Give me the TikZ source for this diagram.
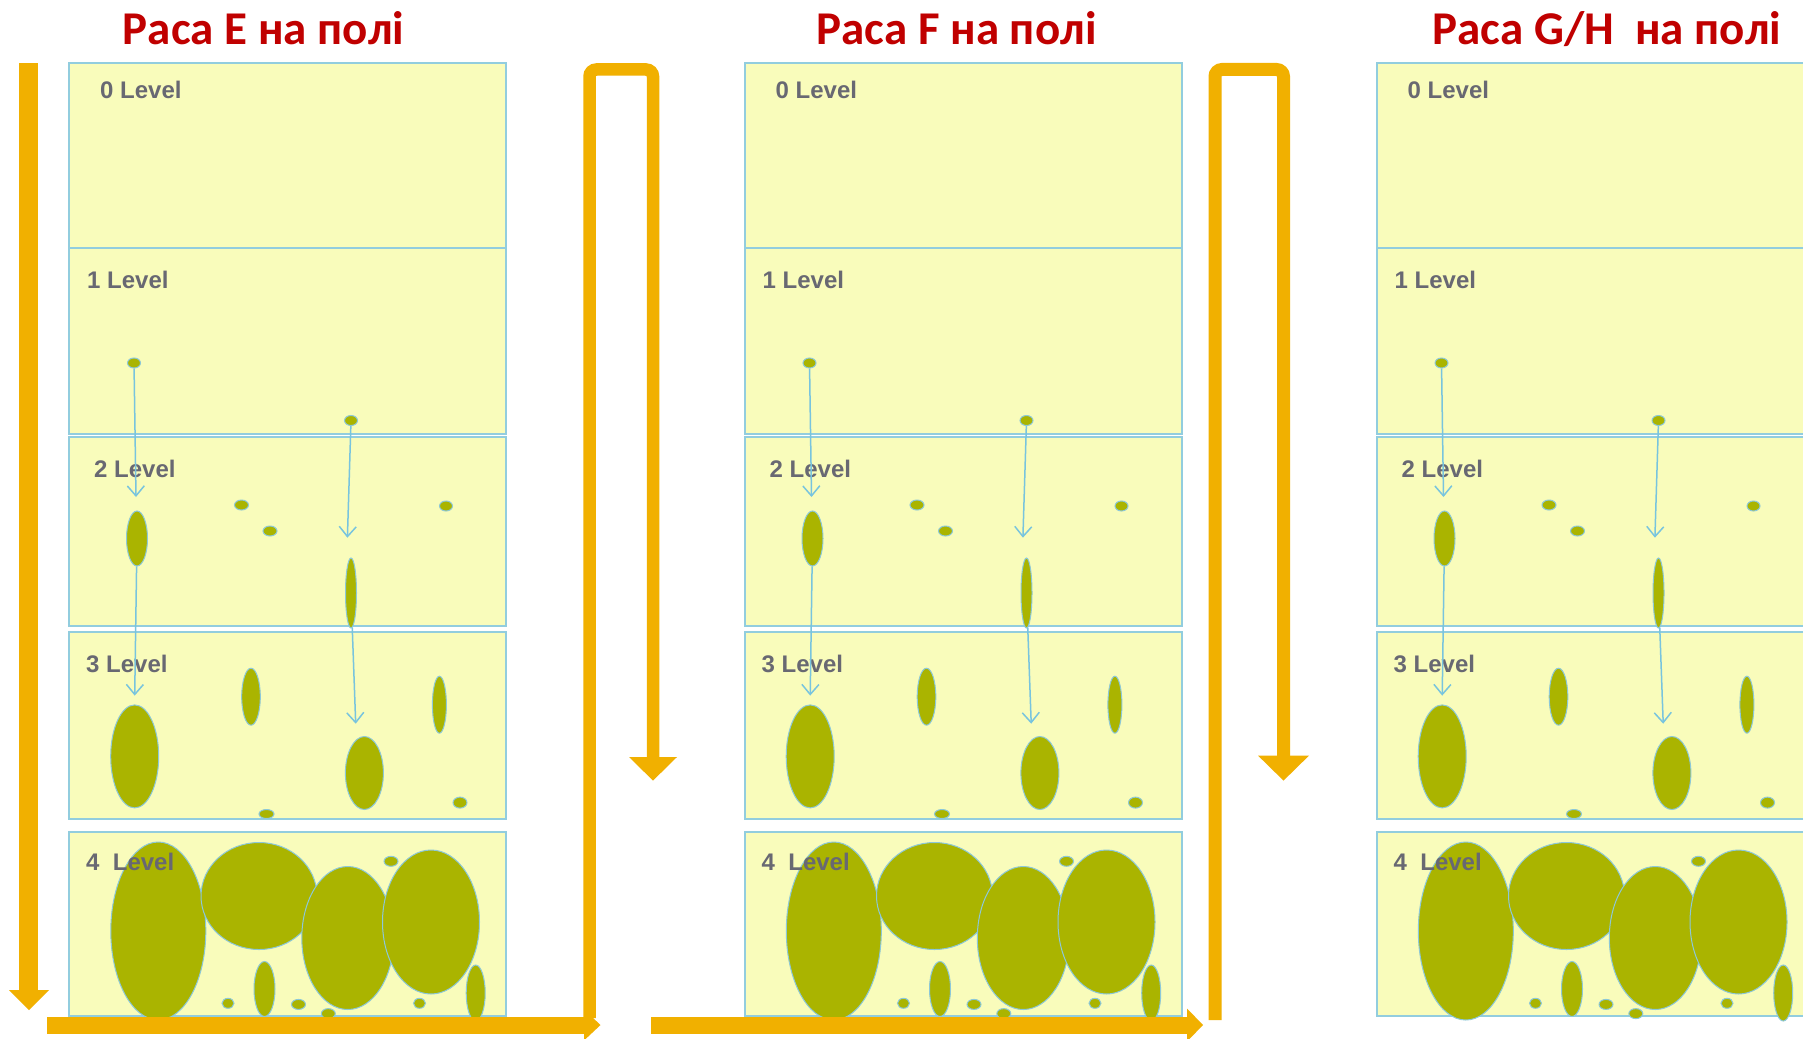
\documentclass[tikz,border=0pt]{standalone}
\usepackage{fontspec}
\usetikzlibrary{shapes.geometric,arrows.meta}
\newfontfamily\titlefont{Carlito}
\newfontfamily\levelfont{Liberation Sans}
\definecolor{titlered}{RGB}{192,0,0}
\definecolor{levelgray}{RGB}{104,104,114}
\definecolor{boxfill}{RGB}{249,252,187}
\definecolor{boxline}{RGB}{146,205,222}
\definecolor{blobfill}{RGB}{170,180,0}
\definecolor{blobline}{RGB}{140,200,218}
\definecolor{arrowblue}{RGB}{120,196,222}
\definecolor{flow}{RGB}{241,176,0}
\tikzset{
  title/.style={anchor=base, text=titlered, inner sep=0pt,
    font=\titlefont\bfseries\fontsize{47}{50}\selectfont},
  lvl/.style={anchor=base west, text=levelgray, inner sep=0pt,
    font=\levelfont\bfseries\fontsize{24}{27}\selectfont},
  field/.style={draw=boxline, fill=boxfill, line width=2pt},
  blob/.style 2 args={ellipse, draw=blobline, line width=1pt, fill=blobfill,
    inner sep=0pt, minimum width=#1pt, minimum height=#2pt},
  descent/.style={draw=arrowblue, line width=1.5pt,
    -{Straight Barb[length=10pt,width=17pt,line width=1.5pt]}},
  flowbar/.style={draw=flow, line width=#1pt, rounded corners=7pt},
}
% one field: five level boxes with the growing plants and their arrows
\newcommand\fieldpanel[2]{%
\begin{scope}[xshift=#1pt]
  \draw[field] (69,63) rectangle (506,248);
  \draw[field] (69,248) rectangle (506,434);
  \draw[field] (69,437) rectangle (506,626);
  \draw[field] (69,632) rectangle (506,819);
  \draw[field] (69,832) rectangle (506,1016);
  % level 1
  \node[blob={13}{10}] (#2d1) at (134,363) {};
  \node[blob={13}{10}] (#2d2) at (351,420.5) {};
  % level 2
  \node[blob={21}{55}] (#2e2a) at (137,538.5) {};
  \node[blob={14}{10}] (#2d3) at (241.5,505) {};
  \node[blob={14}{10}] (#2d4) at (270,531) {};
  \node[blob={13}{10}] (#2d5) at (446,506) {};
  \node[blob={11}{70}] (#2e2b) at (351,593) {};
  % level 3
  \node[blob={48}{103}] (#2e3a) at (134.7,756.4) {};
  \node[blob={18.6}{57}] (#2e3b) at (251,696.7) {};
  \node[blob={14}{57}] (#2e3c) at (439.4,704.7) {};
  \node[blob={38}{73}] (#2e3d) at (364.4,773) {};
  \node[blob={15}{9}] (#2d6) at (266.5,814) {};
  \node[blob={14}{11}] (#2d7) at (460,802.6) {};
  % level 4
  \node[blob={95}{178}] (#2e4a) at (158.3,931) {};
  \node[blob={116}{107}] (#2e4b) at (259,896) {};
  \node[blob={92}{143}] (#2e4c) at (347.8,938) {};
  \node[blob={97}{144}] (#2e4d) at (431,922) {};
  \node[blob={14}{10}] (#2d8) at (391,861.3) {};
  \node[blob={21}{55}] (#2e4e) at (264.5,989) {};
  \node[blob={12}{10}] (#2d9) at (228,1003.3) {};
  \node[blob={14}{10}] (#2d10) at (298.5,1004.4) {};
  \node[blob={14}{10}] (#2d11) at (328.3,1013.6) {};
  \node[blob={12}{10}] (#2d12) at (419.5,1003.3) {};
  \node[blob={19}{56}] (#2e4f) at (475.7,993) {};
  % level names
  \node[lvl] (#2l0) at (100,99) {0 Level};
  \node[lvl] (#2l1) at (87,288.5) {1 Level};
  \node[lvl] (#2l2) at (94,477.5) {2 Level};
  \node[lvl] (#2l3) at (86,672.6) {3 Level};
  \node[lvl] (#2l4) at (86,870.6) {4\ \ Level};
  % growth arrows
  \coordinate (#2t1) at (136,497);
  \coordinate (#2t2) at (347.4,537.7);
  \coordinate (#2t3) at (134.7,695.6);
  \coordinate (#2t4) at (355.7,723.7);
  \draw[descent] (#2d1) -- (#2t1);
  \draw[descent] (#2d2) -- (#2t2);
  \draw[descent] (#2e2a) -- (#2t3);
  \draw[descent] (#2e2b) -- (#2t4);
\end{scope}}
\begin{document}
\begin{tikzpicture}[x=1pt,y=-1pt]
  \useasboundingbox (0,0) rectangle (1803,1038);
  \clip (0,0) rectangle (1803,1038);
  \fill[white] (0,0) rectangle (1803,1038);
  % titles
  \node[title] (tE) at (263.6,45) {Раса E на полі};
  \node[title] (tF) at (956.6,45) {Раса F на полі};
  \node[title] (tG) at (1607,45) {Раса G/H\ \ на полі};
  % fields
  \fieldpanel{0}{E}
  \fieldpanel{675.5}{F}
  \fieldpanel{1307.5}{G}
  % order of walking the fields
  \fill[flow] (19,63) rectangle (38,990);
  \fill[flow] (9,990) -- (49,990) -- (29,1010) -- cycle;
  \fill[flow] (47,1016.5) rectangle (584,1033.5);
  \fill[flow] (584,1009.5) -- (600.5,1025) -- (584,1040.5) -- cycle;
  \draw[flowbar=12.5] (589.5,1018) -- (589.5,69.5) -- (653,69.5) -- (653,758);
  \fill[flow] (629,757) -- (677,757) -- (653,780.6) -- cycle;
  \fill[flow] (650.6,1017) rectangle (1187,1033.5);
  \fill[flow] (1187,1008.5) -- (1203,1025) -- (1187,1041.5) -- cycle;
  \draw[flowbar=13] (1215,1020) -- (1215,69.5) -- (1283.5,69.5) -- (1283.5,756);
  \fill[flow] (1258,755.6) -- (1309,755.6) -- (1283.5,780.6) -- cycle;
\end{tikzpicture}
\end{document}
